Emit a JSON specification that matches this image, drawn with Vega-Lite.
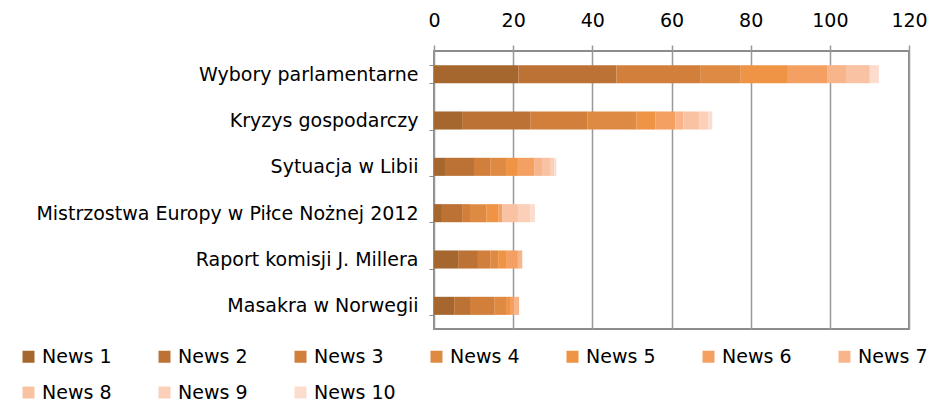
{
  "$schema": "https://vega.github.io/schema/vega-lite/v6.json",
  "autosize": "none",
  "width": 475,
  "height": 278,
  "padding": {"left": 434, "top": 51, "right": 20, "bottom": 76},
  "background": "white",
  "config": {
    "font": "DejaVu Sans",
    "view": {"stroke": "#8c8c8c", "strokeWidth": 2},
    "axis": {"labelFont": "DejaVu Sans", "labelColor": "#000000"}
  },
  "data": {
    "values": [
      {"topic": "Wybory parlamentarne", "series": "News 1", "n": 1, "value": 21.3},
      {"topic": "Wybory parlamentarne", "series": "News 2", "n": 2, "value": 24.8},
      {"topic": "Wybory parlamentarne", "series": "News 3", "n": 3, "value": 21.3},
      {"topic": "Wybory parlamentarne", "series": "News 4", "n": 4, "value": 10.1},
      {"topic": "Wybory parlamentarne", "series": "News 5", "n": 5, "value": 11.9},
      {"topic": "Wybory parlamentarne", "series": "News 6", "n": 6, "value": 9.9},
      {"topic": "Wybory parlamentarne", "series": "News 7", "n": 7, "value": 4.8},
      {"topic": "Wybory parlamentarne", "series": "News 8", "n": 8, "value": 6.0},
      {"topic": "Wybory parlamentarne", "series": "News 10", "n": 10, "value": 2.3},
      {"topic": "Kryzys gospodarczy", "series": "News 1", "n": 1, "value": 7.1},
      {"topic": "Kryzys gospodarczy", "series": "News 2", "n": 2, "value": 17.2},
      {"topic": "Kryzys gospodarczy", "series": "News 3", "n": 3, "value": 14.4},
      {"topic": "Kryzys gospodarczy", "series": "News 4", "n": 4, "value": 12.4},
      {"topic": "Kryzys gospodarczy", "series": "News 5", "n": 5, "value": 4.8},
      {"topic": "Kryzys gospodarczy", "series": "News 6", "n": 6, "value": 5.1},
      {"topic": "Kryzys gospodarczy", "series": "News 7", "n": 7, "value": 2.0},
      {"topic": "Kryzys gospodarczy", "series": "News 8", "n": 8, "value": 4.0},
      {"topic": "Kryzys gospodarczy", "series": "News 9", "n": 9, "value": 2.3},
      {"topic": "Kryzys gospodarczy", "series": "News 10", "n": 10, "value": 1.0},
      {"topic": "Sytuacja w Libii", "series": "News 1", "n": 1, "value": 3.0},
      {"topic": "Sytuacja w Libii", "series": "News 2", "n": 2, "value": 7.1},
      {"topic": "Sytuacja w Libii", "series": "News 3", "n": 3, "value": 4.1},
      {"topic": "Sytuacja w Libii", "series": "News 4", "n": 4, "value": 4.0},
      {"topic": "Sytuacja w Libii", "series": "News 5", "n": 5, "value": 3.0},
      {"topic": "Sytuacja w Libii", "series": "News 6", "n": 6, "value": 4.1},
      {"topic": "Sytuacja w Libii", "series": "News 7", "n": 7, "value": 2.0},
      {"topic": "Sytuacja w Libii", "series": "News 8", "n": 8, "value": 2.0},
      {"topic": "Sytuacja w Libii", "series": "News 9", "n": 9, "value": 1.1},
      {"topic": "Sytuacja w Libii", "series": "News 10", "n": 10, "value": 0.5},
      {"topic": "Mistrzostwa Europy w Piłce Nożnej 2012", "series": "News 1", "n": 1, "value": 2.0},
      {"topic": "Mistrzostwa Europy w Piłce Nożnej 2012", "series": "News 2", "n": 2, "value": 5.1},
      {"topic": "Mistrzostwa Europy w Piłce Nożnej 2012", "series": "News 3", "n": 3, "value": 2.0},
      {"topic": "Mistrzostwa Europy w Piłce Nożnej 2012", "series": "News 4", "n": 4, "value": 4.1},
      {"topic": "Mistrzostwa Europy w Piłce Nożnej 2012", "series": "News 5", "n": 5, "value": 3.0},
      {"topic": "Mistrzostwa Europy w Piłce Nożnej 2012", "series": "News 6", "n": 6, "value": 1.0},
      {"topic": "Mistrzostwa Europy w Piłce Nożnej 2012", "series": "News 8", "n": 8, "value": 4.0},
      {"topic": "Mistrzostwa Europy w Piłce Nożnej 2012", "series": "News 9", "n": 9, "value": 3.1},
      {"topic": "Mistrzostwa Europy w Piłce Nożnej 2012", "series": "News 10", "n": 10, "value": 1.2},
      {"topic": "Raport komisji J. Millera", "series": "News 1", "n": 1, "value": 6.1},
      {"topic": "Raport komisji J. Millera", "series": "News 2", "n": 2, "value": 5.0},
      {"topic": "Raport komisji J. Millera", "series": "News 3", "n": 3, "value": 3.1},
      {"topic": "Raport komisji J. Millera", "series": "News 4", "n": 4, "value": 2.0},
      {"topic": "Raport komisji J. Millera", "series": "News 5", "n": 5, "value": 2.0},
      {"topic": "Raport komisji J. Millera", "series": "News 6", "n": 6, "value": 3.0},
      {"topic": "Raport komisji J. Millera", "series": "News 7", "n": 7, "value": 1.1},
      {"topic": "Masakra w Norwegii", "series": "News 1", "n": 1, "value": 5.1},
      {"topic": "Masakra w Norwegii", "series": "News 2", "n": 2, "value": 4.0},
      {"topic": "Masakra w Norwegii", "series": "News 3", "n": 3, "value": 6.1},
      {"topic": "Masakra w Norwegii", "series": "News 4", "n": 4, "value": 3.0},
      {"topic": "Masakra w Norwegii", "series": "News 5", "n": 5, "value": 1.0},
      {"topic": "Masakra w Norwegii", "series": "News 6", "n": 6, "value": 1.0},
      {"topic": "Masakra w Norwegii", "series": "News 7", "n": 7, "value": 1.3}
    ]
  },
  "mark": {"type": "bar"},
  "encoding": {
    "y": {
      "field": "topic",
      "type": "nominal",
      "sort": null,
      "title": null,
      "scale": {"paddingInner": 0.61, "paddingOuter": 0.305},
      "axis": {
        "orient": "left",
        "domain": false,
        "labelFontSize": 19,
        "labelPadding": 11,
        "tickSize": 5,
        "tickColor": "#8c8c8c",
        "tickBand": "extent",
        "labelLimit": 500
      }
    },
    "x": {
      "field": "value",
      "type": "quantitative",
      "stack": "zero",
      "title": null,
      "scale": {"domain": [0, 120], "nice": false},
      "axis": {
        "orient": "top",
        "values": [0, 20, 40, 60, 80, 100, 120],
        "domain": false,
        "grid": true,
        "gridColor": "#999999",
        "gridWidth": 1.5,
        "tickColor": "#999999",
        "tickWidth": 1.5,
        "tickSize": 6,
        "labelFontSize": 19,
        "labelPadding": 15,
        "labelFlush": false,
        "labelOverlap": false
      }
    },
    "color": {
      "field": "series",
      "type": "nominal",
      "scale": {
        "domain": ["News 1", "News 2", "News 3", "News 4", "News 5", "News 6", "News 7", "News 8", "News 9", "News 10"],
        "range": ["#a6672f", "#bd7235", "#d17f3b", "#df8a42", "#ef9445", "#f5a063", "#f8b58a", "#f9c2a2", "#fbcfb8", "#fcdccd"]
      },
      "legend": {
        "title": null,
        "orient": "none",
        "legendX": -415,
        "legendY": 296,
        "direction": "horizontal",
        "columns": 7,
        "gridAlign": "all",
        "columnPadding": 31,
        "rowPadding": 16,
        "symbolType": "square",
        "symbolSize": 144,
        "symbolStrokeWidth": 0,
        "labelFontSize": 19,
        "labelColor": "#000000",
        "labelOffset": 4,
        "labelLimit": 200
      }
    },
    "order": {"field": "n", "type": "quantitative"}
  }
}
